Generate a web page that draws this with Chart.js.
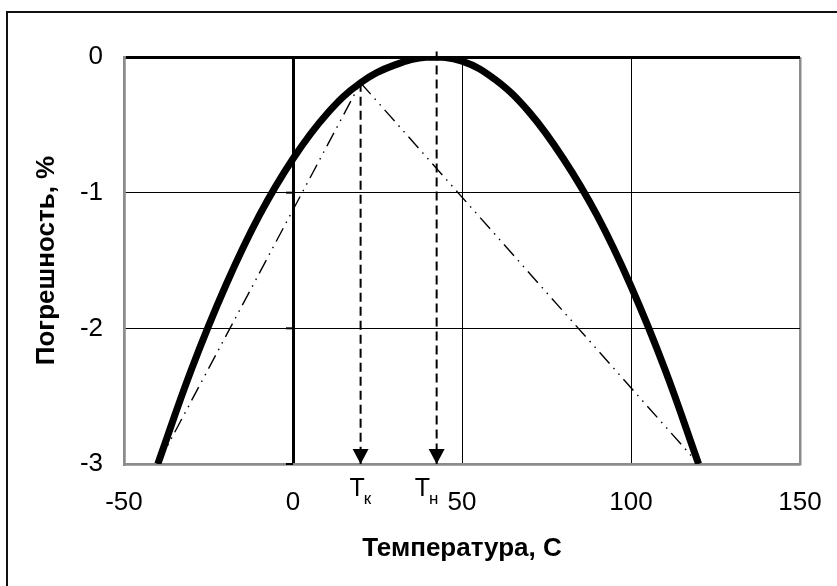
<!DOCTYPE html>
<html>
<head>
<meta charset="utf-8">
<script src="https://cdn.jsdelivr.net/npm/chart.js@4"></script>
<style>
  html, body { margin: 0; padding: 0; background: #fff; }
  #wrap { position: relative; width: 837px; height: 586px; overflow: hidden; }
  #frame { position: absolute; left: 6px; top: 11px; width: 900px; height: 700px;
           border-left: 2px solid #111; border-top: 2px solid #111; }
  #chart { position: absolute; left: 0; top: 0; }
</style>
</head>
<body>
<div id="wrap">
  <div id="frame"></div>
  <canvas id="chart" width="837" height="586"></canvas>
</div>
<script>
// ─── Data ─────────────────────────────────────────────

const TEMP = [-40, -30, -20, -10, 0, 10, 20, 30, 40, 50, 60, 70, 80, 90, 100, 110, 120];
const ERR  = [-3.00, -2.30, -1.69, -1.17, -0.75, -0.42, -0.19, -0.06, 0.00,
              -0.03, -0.17, -0.41, -0.75, -1.17, -1.69, -2.30, -3.00];

// dash-dot chord through the Tк point
const CHORD_T = [-40, 20, 120];
const CHORD_E = [-3, -0.19, -3];

// vertical arrows: Tк and Tн
const MARK_T    = [20, 42.5];
const MARK_TOP  = [-0.19, 0.04];
const MARK_SUB  = ['к', 'н'];

const X_TICKS = [-50, 0, 50, 100, 150];
const Y_TICKS = [0, -1, -2, -3];

// ─── Helpers ──────────────────────────────────────────

const GRAY = '#8c8c8c';
const pts = (xs, ys) => xs.map((x, i) => ({ x, y: ys[i] }));
const FONT = '"Liberation Sans", Arial, sans-serif';

const marksPlugin = {
  id: 'marks',
  beforeDatasetsDraw(chart) {
    // small tick marks on the vertical axis (x = 0)
    const { ctx, scales: { x, y } } = chart;
    const x0 = x.getPixelForValue(0);
    ctx.save();
    ctx.strokeStyle = '#000';
    ctx.lineWidth = 2;
    Y_TICKS.forEach(v => {
      const py = y.getPixelForValue(v);
      ctx.beginPath();
      ctx.moveTo(x0 - 7, py);
      ctx.lineTo(x0, py);
      ctx.stroke();
    });
    ctx.restore();
  },
  afterDatasetsDraw(chart) {
    const { ctx, scales: { x, y } } = chart;
    const yb = y.getPixelForValue(Y_TICKS[Y_TICKS.length - 1]);
    const labelDx = [-11, -22];
    ctx.save();
    ctx.fillStyle = '#000';
    MARK_T.forEach((t, i) => {
      const px = x.getPixelForValue(t);
      ctx.beginPath();
      ctx.moveTo(px - 8, yb - 15);
      ctx.lineTo(px + 8, yb - 15);
      ctx.lineTo(px, yb);
      ctx.closePath();
      ctx.fill();

      ctx.textBaseline = 'alphabetic';
      ctx.textAlign = 'left';
      ctx.font = '25px ' + FONT;
      const lx = px + labelDx[i];
      ctx.fillText('T', lx, 496);
      const w = ctx.measureText('T').width;
      ctx.font = '17px ' + FONT;
      ctx.fillText(MARK_SUB[i], lx + w - 1, 504);
    });
    ctx.restore();
  },
};

// ─── Chart ────────────────────────────────────────────

const dashed = (xs, ys) => ({
  data: pts(xs, ys),
  borderColor: '#000',
  borderWidth: 2,
  borderDash: [9, 5],
  pointRadius: 0,
  tension: 0,
  clip: false,
});

new Chart(document.getElementById('chart'), {
  type: 'line',
  data: {
    datasets: [
      {
        data: pts(CHORD_T, CHORD_E),
        borderColor: '#000',
        borderWidth: 1.4,
        borderDash: [15, 6, 1.5, 6, 1.5, 6],
        pointRadius: 0,
        tension: 0,
      },
      dashed([MARK_T[0], MARK_T[0]], [MARK_TOP[0], -3]),
      dashed([MARK_T[1], MARK_T[1]], [MARK_TOP[1], -3]),
      {
        data: pts(TEMP, ERR),
        borderColor: '#000',
        borderWidth: 7,
        pointRadius: 0,
        tension: 0.4,
        clip: 0,
      },
    ],
  },
  options: {
    responsive: false,
    animation: false,
    layout: { padding: { left: 27, top: 57, right: 37, bottom: 18 } },
    plugins: { legend: { display: false }, tooltip: { enabled: false } },
    scales: {
      x: {
        type: 'linear',
        min: -50, max: 150,
        afterBuildTicks: s => { s.ticks = X_TICKS.map(v => ({ value: v })); },
        afterFit: s => { s.height = 104; s.paddingLeft = 0; s.paddingRight = 0; },
        grid: {
          drawTicks: false,
          color: c => (c.tick.value === -50 || c.tick.value === 150) ? GRAY : '#000',
          lineWidth: c => c.tick.value === 0 ? 3 : (c.tick.value === 150 || c.tick.value === -50 ? 2.5 : 1),
        },
        border: { color: GRAY, width: 2.5 },
        ticks: { color: '#000', padding: 23, font: { family: FONT, size: 26 } },
        title: {
          display: true,
          text: 'Температура, С',
          color: '#000',
          font: { family: FONT, size: 26, weight: 'bold' },
        },
      },
      y: {
        min: -3, max: 0,
        afterBuildTicks: s => { s.ticks = Y_TICKS.map(v => ({ value: v })); },
        afterFit: s => { s.width = 97; s.paddingTop = 0; s.paddingBottom = 0; },
        grid: {
          drawTicks: false,
          color: c => c.tick.value === -3 ? GRAY : '#000',
          lineWidth: c => c.tick.value === 0 ? 3 : (c.tick.value === -3 ? 2.5 : 1),
        },
        border: { color: GRAY, width: 2.5 },
        ticks: { color: '#000', padding: 21, font: { family: FONT, size: 26 } },
        title: {
          display: true,
          text: 'Погрешность, %',
          color: '#000',
          font: { family: FONT, size: 26, weight: 'bold' },
        },
      },
    },
  },
  plugins: [marksPlugin],
});
</script>
</body>
</html>
